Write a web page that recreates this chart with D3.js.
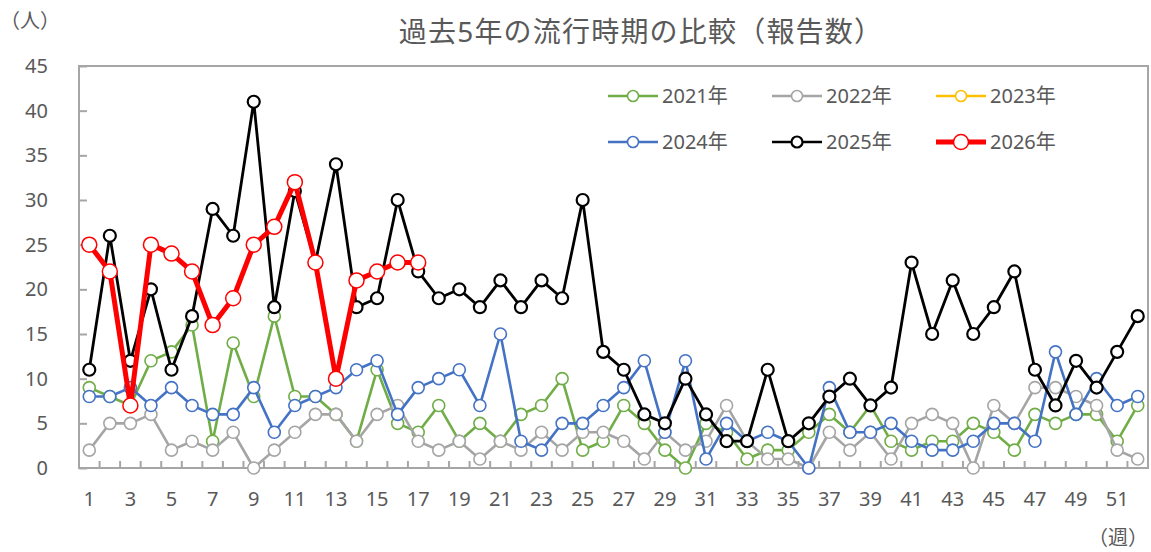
<!DOCTYPE html>
<html>
<head>
<meta charset="utf-8">
<script src="https://cdn.jsdelivr.net/npm/d3@7"></script>
<style>
  body { margin: 0; background: #fff; }
  svg text { font-family: "Noto Sans", "Noto Sans CJK JP", sans-serif; fill: #595959; }
</style>
</head>
<body>
<div id="chart"></div>
<script>
// weeks 1..52
var weeks = d3.range(1, 53);
var yTicks = [0, 5, 10, 15, 20, 25, 30, 35, 40, 45];

var y2021 = [9,8,7,12,13,16,3,14,8,17, 8,8,6,3,11,5,4,7,3,5, 3,6,7,10,2,3,7,5,2,0, 5,4,1,2,2,4,6,4,7,3, 2,3,3,5,4,2,6,5,6,6, 3,7];
var y2022 = [2,5,5,6,2,3,2,4,0,2, 4,6,6,3,6,7,3,2,3,1, 3,2,4,2,4,4,3,1,4,2, 3,7,3,1,1,0,4,2,4,1, 5,6,5,0,7,5,9,9,8,7, 2,1];
var y2023 = [];
var y2024 = [8,8,9,7,9,7,6,6,9,4, 7,8,9,11,12,6,9,10,11,7, 15,3,2,5,5,7,9,12,4,12, 1,5,3,4,3,0,9,4,4,5, 3,2,2,3,5,5,3,13,6,10, 7,8];
var y2025 = [11,26,12,20,11,17,29,26,41,18, 31,23,34,18,19,30,22,19,20,18, 21,18,21,19,30,13,11,6,5,10, 6,3,3,11,3,5,8,10,7,9, 23,15,21,15,18,22,11,7,12,9, 13,17];
var y2026 = [25,22,7,25,24,22,16,19,25,27,32,23,10,21,22,23,23];

var seriesNames = ["2021年", "2022年", "2023年", "2024年", "2025年", "2026年"];
var seriesValues = [y2021, y2022, y2023, y2024, y2025, y2026];
var colors = ["#70AD47", "#A5A5A5", "#FFC000", "#4472C4", "#000000", "#FF0000"];

var svgWidth = 1151, svgHeight = 552;
var plot = { left: 79, right: 1148, top: 66, bottom: 468 };

var svg = d3.select("#chart").append("svg")
  .attr("width", svgWidth)
  .attr("height", svgHeight);

var x = d3.scaleBand()
  .domain(weeks)
  .range([plot.left, plot.right])
  .padding(0);

var y = d3.scaleLinear()
  .domain([0, 45])
  .range([plot.bottom, plot.top]);

var cx = function(w) { return x(w) + x.bandwidth() / 2; };

// title and unit labels
svg.append("text")
  .attr("x", 641).attr("y", 42)
  .attr("text-anchor", "middle")
  .attr("font-size", 28)
  .attr("letter-spacing", 1.2)
  .text("過去5年の流行時期の比較（報告数）");

svg.append("text")
  .attr("x", 30).attr("y", 28)
  .attr("text-anchor", "middle")
  .attr("font-size", 20)
  .text("（人）");

svg.append("text")
  .attr("x", 1118).attr("y", 545)
  .attr("text-anchor", "middle")
  .attr("font-size", 20)
  .text("（週）");

// plot frame
svg.append("rect")
  .attr("x", plot.left).attr("y", plot.top)
  .attr("width", plot.right - plot.left)
  .attr("height", plot.bottom - plot.top)
  .attr("fill", "none")
  .attr("stroke", "#A6A6A6")
  .attr("stroke-width", 2);

// y axis, ticks pointing inward
var yAxis = svg.append("g")
  .attr("transform", `translate(${plot.left},0)`)
  .call(d3.axisLeft(y).tickValues(yTicks).tickSize(-8).tickPadding(31));
yAxis.select(".domain").remove();
yAxis.selectAll("line").attr("stroke", "#A6A6A6").attr("stroke-width", 2);
yAxis.selectAll("text").attr("font-size", 20).attr("font-family", null);

// x axis: labels on odd weeks, ticks on category boundaries
var xAxis = svg.append("g")
  .attr("transform", `translate(0,${plot.bottom})`)
  .call(d3.axisBottom(x).tickSize(0).tickPadding(24)
    .tickFormat(function(d) { return d % 2 === 1 ? d : ""; }));
xAxis.select(".domain").remove();
xAxis.selectAll("text").attr("font-size", 20).attr("font-family", null);

svg.append("g").selectAll("line")
  .data(weeks.slice(1))
  .enter().append("line")
  .attr("x1", d => x(d)).attr("x2", d => x(d))
  .attr("y1", plot.bottom).attr("y2", plot.bottom - 7)
  .attr("stroke", "#A6A6A6")
  .attr("stroke-width", 2);

// lines and markers
var line = d3.line()
  .x((d, i) => cx(weeks[i]))
  .y(d => y(d));

seriesValues.forEach(function(vals, s) {
  if (!vals.length) return;
  var isLast = s === 5;
  var g = svg.append("g");
  g.append("path")
    .datum(vals)
    .attr("d", line)
    .attr("fill", "none")
    .attr("stroke", colors[s])
    .attr("stroke-width", isLast ? 5 : (s === 4 ? 2.8 : 2.6))
    .attr("stroke-linejoin", "round");
  g.selectAll("circle")
    .data(vals)
    .enter().append("circle")
    .attr("cx", (d, i) => cx(weeks[i]))
    .attr("cy", d => y(d))
    .attr("r", isLast ? 7.5 : 6)
    .attr("fill", "#fff")
    .attr("stroke", colors[s])
    .attr("stroke-width", isLast ? 1.5 : (s === 4 ? 2.2 : 1.6));
});

// legend, 3 columns x 2 rows
var legend = svg.append("g");
seriesNames.forEach(function(name, s) {
  var col = s % 3, row = Math.floor(s / 3);
  var lx = 608 + col * 164, ly = 96 + row * 46;
  var isLast = s === 5;
  var item = legend.append("g").attr("transform", `translate(${lx},${ly})`);
  item.append("line")
    .attr("x1", 0).attr("x2", 50)
    .attr("stroke", colors[s])
    .attr("stroke-width", isLast ? 5 : 2.6);
  item.append("circle")
    .attr("cx", 25).attr("r", isLast ? 7.5 : 5.5)
    .attr("fill", "#fff")
    .attr("stroke", colors[s])
    .attr("stroke-width", isLast ? 1.5 : (s === 4 ? 2.2 : 1.6));
  item.append("text")
    .attr("x", 54).attr("dy", "0.35em")
    .attr("font-size", 20)
    .text(name);
});
</script>
</body>
</html>
